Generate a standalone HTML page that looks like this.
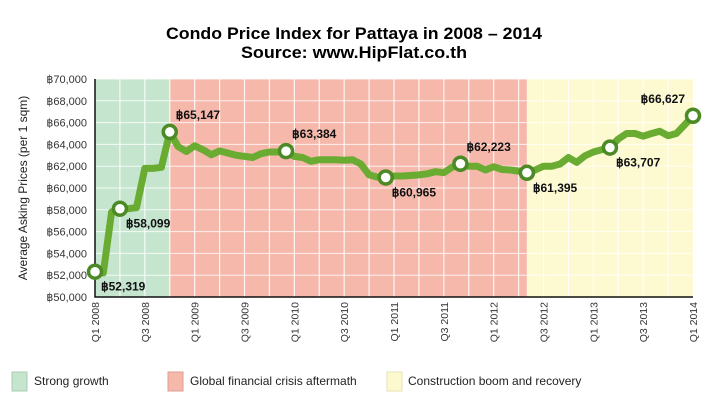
<!DOCTYPE html>
<html><head><meta charset="utf-8"><style>
body{margin:0;background:#fff;}
svg{display:block;font-family:"Liberation Sans",Arial,sans-serif;}
</style></head><body>
<svg id="chart" width="720" height="409" viewBox="0 0 720 409">
<text x="354" y="39" text-anchor="middle" font-size="17" font-weight="bold" textLength="376" lengthAdjust="spacingAndGlyphs">Condo Price Index for Pattaya in 2008 – 2014</text>
<text x="354" y="58" text-anchor="middle" font-size="17" font-weight="bold" textLength="226" lengthAdjust="spacingAndGlyphs">Source: www.HipFlat.co.th</text>
<g id="bands"></g><g id="grid"></g><g id="axes"></g><g id="series"></g><g id="labels"></g>
<text transform="translate(27,188) rotate(-90)" text-anchor="middle" font-size="12" fill="#222">Average Asking Prices (per 1 sqm)</text>
<g>
<rect x="12" y="372" width="15" height="19" fill="#c5e5cf" stroke="#a9cdb4"/>
<text x="34" y="385" font-size="12" fill="#222">Strong growth</text>
<rect x="168" y="372" width="15" height="19" fill="#f5b8ab" stroke="#dca093"/>
<text x="190" y="385" font-size="12" fill="#222">Global financial crisis aftermath</text>
<rect x="387" y="372" width="15" height="19" fill="#fdf9cf" stroke="#e6e2b8"/>
<text x="408" y="385" font-size="12" fill="#222">Construction boom and recovery</text>
</g>
</svg>
<script>
const prices=[52319,52200,57800,58099,58100,58200,61800,61800,61900,65147,
63800,63350,63870,63500,63050,63400,63200,63000,62900,62800,63150,63300,63300,63384,
62900,62800,62450,62600,62600,62600,62550,62600,62200,61200,61000,60965,
61100,61100,61150,61200,61300,61500,61400,61900,62223,62000,62000,61650,61950,61700,61650,61550,61395,
61650,62000,62000,62200,62800,62350,62950,63300,63500,63707,64500,65000,65000,64750,65000,65200,64800,65000,65800,66627];
const markedIdx=[0,3,9,23,35,44,52,62,72];
const markerLabelPos=["below","below","above","above","below","above","below","below","above"];
const bandStarts=[0,9,52];
const bandEnds=[9,52,72];
const bandNames=["band-strong-growth","band-crisis","band-boom"];
const bandColors=["#c5e5cf","#f5b8ab","#fdf9d0"];
const yTicks=[50000,52000,54000,56000,58000,60000,62000,64000,66000,68000,70000];
const xTickLabels=["Q1 2008","Q3 2008","Q1 2009","Q3 2009","Q1 2010","Q3 2010","Q1 2011","Q3 2011","Q1 2012","Q3 2012","Q1 2013","Q3 2013","Q1 2014"];

const NS="http://www.w3.org/2000/svg";
const L=95,R=693,T=79,B=297;
const nMonths=72;
const X=m=>L+(R-L)*m/nMonths;
const Y=v=>B-(v-50000)/20000*(B-T);
function mk(tag,attrs,parent){const e=document.createElementNS(NS,tag);for(const k in attrs)e.setAttribute(k,attrs[k]);document.getElementById(parent).appendChild(e);return e;}
const fmt=v=>"฿"+v.toLocaleString("en-US");

bandStarts.forEach((s,i)=>{
 const r=mk("rect",{x:X(s),y:T,width:X(bandEnds[i])-X(s),height:B-T,fill:bandColors[i]},"bands");
 
 
});
for(let q=1;q<24;q++){
 const l=mk("line",{x1:X(q*3),x2:X(q*3),y1:T,y2:B,stroke:"#fff","stroke-width":1.2,"stroke-opacity":0.85},"grid");
 
 
}
yTicks.forEach(v=>{
 const l=mk("line",{x1:L,x2:R,y1:Y(v),y2:Y(v),stroke:"#fff","stroke-width":1,"stroke-opacity":0.8},"grid");
 
 
 const t=mk("text",{x:87,y:Y(v)+4,"text-anchor":"end","font-size":11,fill:"#333"},"axes");
 t.textContent=fmt(v);
 
 
});
xTickLabels.forEach((s,i)=>{
 const x=X(i*6);
 const t=mk("text",{transform:`translate(${x+4},302) rotate(-90)`,"text-anchor":"end","font-size":10.5,fill:"#333"},"axes");
 t.textContent=s;
 
 
});
const ax=mk("path",{d:`M${L},${T} V${B} H${R}`,fill:"none",stroke:"#111","stroke-width":1.5},"axes");



const d=prices.map((v,i)=>(i?"L":"M")+X(i).toFixed(1)+","+Y(v).toFixed(1)).join(" ");
const line=mk("path",{d:d,fill:"none",stroke:"#6aab32","stroke-width":7,"stroke-linejoin":"round","stroke-linecap":"round"},"series");


markedIdx.forEach((m,i)=>{
 const v=prices[m];
 const c=mk("circle",{cx:X(m),cy:Y(v),r:6.5,fill:"#fff",stroke:"#4b8a24","stroke-width":3.5},"series");
 
 
 const above=markerLabelPos[i]==="above";
 let tx=X(m)+6, anchor="start";
 if(m===72){tx=X(m)-8;anchor="end";}
 const t=mk("text",{x:tx,y:above?Y(v)-13:Y(v)+19,"text-anchor":anchor,"font-size":12,"font-weight":"bold",fill:"#111"},"labels");
 t.textContent=fmt(v);
 
 
});
</script>
</body></html>
